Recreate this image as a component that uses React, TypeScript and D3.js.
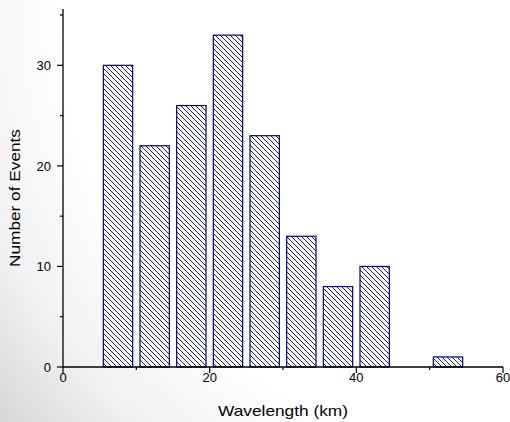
import React from "react";
import * as d3 from "d3";

const binCenters = [7.5, 12.5, 17.5, 22.5, 27.5, 32.5, 37.5, 42.5, 52.5];
const counts = [30, 22, 26, 33, 23, 13, 8, 10, 1];
const xMajorTicks = [0, 20, 40, 60];
const xMinorTicks = [10, 30, 50];
const yMajorTicks = [0, 10, 20, 30];
const yMinorTicks = [5, 15, 25, 35];
const barWidthUnits = 4;

const W = 510;
const H = 422;
const FONT = "'Liberation Sans', Arial, sans-serif";

export default function App() {
  const x = d3.scaleLinear().domain([0, 60]).range([63, 503]);
  const y = d3.scaleLinear().domain([0, 35.6]).range([367, 9]);
  const axisColor = "#000";
  const navy = "#000080";

  return (
    <svg
      width={W}
      height={H}
      style={{ position: "absolute", left: 0, top: 0 }}
      xmlns="http://www.w3.org/2000/svg"
    >
      <defs>
        <radialGradient id="bg" gradientUnits="userSpaceOnUse" cx={W} cy={0} r={662}>
          <stop offset="0" stopColor="#ffffff" />
          <stop offset="0.68" stopColor="#ffffff" />
          <stop offset="0.85" stopColor="#f1f1f1" />
          <stop offset="1" stopColor="#d6d6d6" />
        </radialGradient>
        <pattern id="hatch" patternUnits="userSpaceOnUse" width={5} height={5}>
          <rect width={5} height={5} fill="#ffffff" />
          <path
            d="M0,0 L5,5 M-1,4 L1,6 M4,-1 L6,1"
            stroke={navy}
            strokeWidth={0.9}
            fill="none"
          />
        </pattern>
      </defs>
      <rect x={0} y={0} width={W} height={H} fill="url(#bg)" />

      {counts.map((c, i) => {
        const x0 = x(binCenters[i] - barWidthUnits / 2);
        const x1 = x(binCenters[i] + barWidthUnits / 2);
        const yt = y(c);
        return (
          <rect
            key={i}
            x={x0}
            y={yt}
            width={x1 - x0}
            height={y(0) - yt}
            fill="url(#hatch)"
            stroke={navy}
            strokeWidth={1.2}
          />
        );
      })}

      {/* axes */}
      <line x1={x(0)} x2={x(0)} y1={y(35.6)} y2={y(0)} stroke={axisColor} strokeWidth={1.3} />
      <line x1={x(0)} x2={x(60)} y1={y(0)} y2={y(0)} stroke={axisColor} strokeWidth={1.3} />

      {yMajorTicks.map((t) => (
        <g key={"ym" + t}>
          <line x1={x(0) - 6} x2={x(0)} y1={y(t)} y2={y(t)} stroke={axisColor} strokeWidth={1.2} />
          <text
            x={x(0) - 12}
            y={y(t)}
            dy="0.36em"
            textAnchor="end"
            fontFamily={FONT}
            fontSize={13}
            fill="#000"
          >
            {t}
          </text>
        </g>
      ))}
      {yMinorTicks.map((t) => (
        <line key={"yn" + t} x1={x(0) - 3} x2={x(0)} y1={y(t)} y2={y(t)} stroke={axisColor} strokeWidth={1.2} />
      ))}
      {xMajorTicks.map((t) => (
        <g key={"xm" + t}>
          <line x1={x(t)} x2={x(t)} y1={y(0)} y2={y(0) + 6} stroke={axisColor} strokeWidth={1.2} />
          <text
            x={x(t)}
            y={y(0) + 15}
            textAnchor="middle"
            fontFamily={FONT}
            fontSize={13}
            fill="#000"
          >
            {t}
          </text>
        </g>
      ))}
      {xMinorTicks.map((t) => (
        <line key={"xn" + t} x1={x(t)} x2={x(t)} y1={y(0)} y2={y(0) + 3} stroke={axisColor} strokeWidth={1.2} />
      ))}

      <text
        x={283}
        y={416}
        textAnchor="middle"
        fontFamily={FONT}
        fontSize={15}
        textLength={130}
        lengthAdjust="spacingAndGlyphs"
        fill="#000"
      >
        Wavelength (km)
      </text>
      <text
        transform="translate(20,198) rotate(-90)"
        textAnchor="middle"
        fontFamily={FONT}
        fontSize={15}
        textLength={138}
        lengthAdjust="spacingAndGlyphs"
        fill="#000"
      >
        Number of Events
      </text>
    </svg>
  );
}
